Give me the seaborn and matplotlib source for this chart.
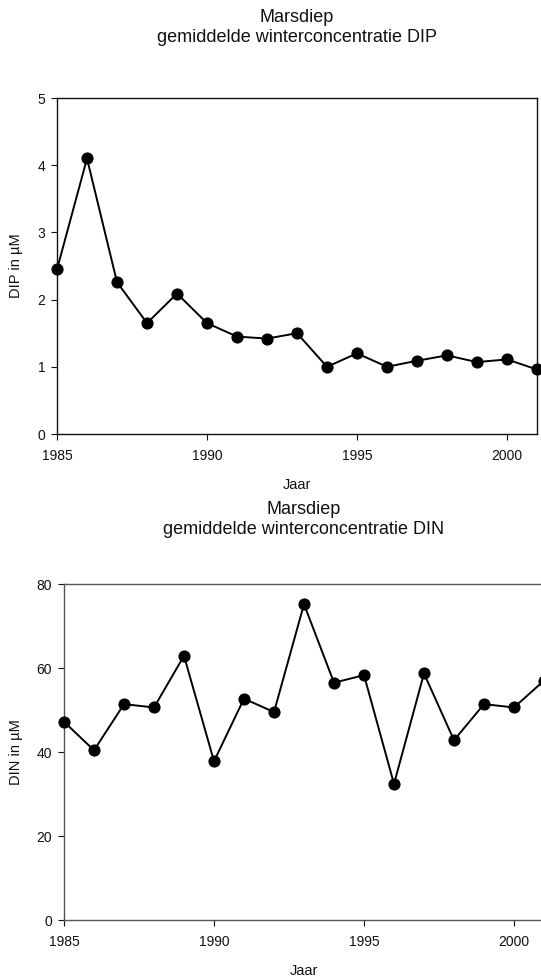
import matplotlib
matplotlib.use("Agg")
import matplotlib.pyplot as plt
import seaborn as sns
import pandas as pd

years = list(range(1985, 2002))
dip_values = [2.45, 4.10, 2.26, 1.65, 2.09, 1.65, 1.45, 1.42, 1.50, 1.00,
              1.20, 1.00, 1.09, 1.17, 1.07, 1.11, 0.96]
din_values = [47.2, 40.4, 51.4, 50.6, 62.9, 37.8, 52.7, 49.5, 75.2, 56.5,
              58.3, 32.4, 58.7, 42.8, 51.4, 50.6, 57.0]
x_ticks = [1985, 1990, 1995, 2000]
dip_ticks = [0, 1, 2, 3, 4, 5]
din_ticks = [0, 20, 40, 60, 80]
titles = ["Marsdiep\ngemiddelde winterconcentratie DIP",
          "Marsdiep\ngemiddelde winterconcentratie DIN"]
ylabels = ["DIP in µM", "DIN in µM"]
xlabel = "Jaar"

sns.set_style("ticks")
plt.rcParams["font.family"] = ["Liberation Sans", "DejaVu Sans"]

fig = plt.figure(figsize=(5.41, 9.76), dpi=100)
W, H = 541, 976

def add_axes(left, top, right, bottom):
    return fig.add_axes([left / W, 1 - bottom / H, (right - left) / W, (bottom - top) / H])

ax1 = add_axes(57, 98, 537, 434)
ax2 = add_axes(64, 584, 544, 920)

df1 = pd.DataFrame({"Jaar": years, "val": dip_values})
df2 = pd.DataFrame({"Jaar": years, "val": din_values})

configs = [
    (ax1, df1, (0, 5), dip_ticks, "#111111", 40),
    (ax2, df2, (0, 80), din_ticks, "#555555", 36),
]

for i, (ax, df, ylim, yt, scol, tpad) in enumerate(configs):
    sns.lineplot(data=df, x="Jaar", y="val", ax=ax, color="black",
                 marker="o", markersize=8, markeredgecolor="black",
                 linewidth=1.4, clip_on=False, zorder=3)
    ax.set_xlim(1985, 2001)
    ax.set_ylim(*ylim)
    ax.set_xticks(x_ticks)
    ax.set_yticks(yt)
    ax.tick_params(axis="both", direction="out", length=4.5, width=0.8,
                   labelsize=10, colors="#111111", pad=4)
    ax.tick_params(axis="x", pad=6)
    for s in ax.spines.values():
        s.set_visible(True)
        s.set_color(scol)
        s.set_linewidth(1.0)
    ax.set_ylabel(ylabels[i], fontsize=10.5, labelpad=10, color="#111111")
    ax.set_xlabel(xlabel, fontsize=10.5, labelpad=11, color="#111111")
    ax.set_title(titles[i], fontsize=13, linespacing=1.25, pad=tpad, color="#111111")
    ax.grid(False)

fig.savefig("out.png", dpi=100)
